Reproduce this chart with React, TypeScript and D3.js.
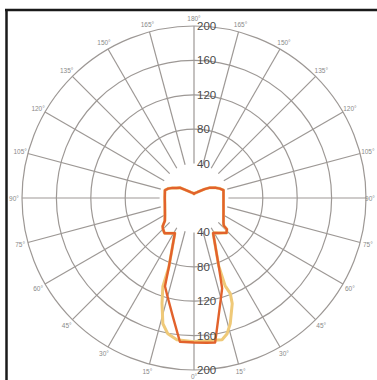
import React from "react";
import * as d3 from "d3";

const ringValues = [40, 80, 120, 160, 200];
const gridRings = [80, 120, 160, 200];
const spokeAngles = [0, 15, 30, 45, 60, 75, 90, 105, 120, 135, 150, 165, 180];
const angleLabels = ["0°", "15°", "30°", "45°", "60°", "75°", "90°", "105°", "120°", "135°", "150°", "165°", "180°"];

// C0-C180 plane (red), path order: bottom -> left side -> top -> right side (negative = left)
const redAngles = [0, -5.6, -10, -15, -18.2, -20, -25, -28.5, -30, -35, -40, -45, -48, -52, -60, -70, -80, -90, -100, -105, -110, -115, -120, -126, -130, -140, -150, -160, -170, 180,
  170, 160, 150, 140, 130, 122.8, 115, 110, 105, 100, 90, 80, 70, 60, 50, 47, 46.5, 43, 40, 35, 30, 28.5, 25, 20, 17.3, 15, 10, 8.3, 5];
const redValues = [168, 168, 140.6, 118.8, 108, 85.6, 57.2, 46.6, 47.3, 50, 53.4, 51, 49, 43, 39, 36, 34.4, 34, 34.4, 35, 32, 27.7, 23.4, 20.3, 16, 10.4, 7.8, 6.5, 5.7, 4.7,
  5.7, 6.5, 7.8, 10.4, 16, 22.2, 28, 32, 35.5, 34.8, 34.3, 34.8, 36.5, 39.6, 44.7, 47.4, 52.7, 55.5, 53, 49.6, 46.8, 46.6, 57, 84, 110, 120.8, 154, 170, 169];

// C90-C270 plane (yellow)
const yellowAngles = [0, -6.9, -10.9, -13.9, -16.9, -19.4, -20, -25, -28.5, -30, -35, -40, -45, -48, -52, -60, -70, -80, -90, -100, -105, -110, -115, -120, -126, -130, -140, -150, -160, -170, 180,
  170, 160, 150, 140, 130, 122.8, 115, 110, 105, 100, 90, 80, 70, 60, 50, 47, 46.5, 43, 40, 35, 30, 28.5, 25, 20, 19.5, 20.8, 19.9, 16.1, 13.7, 11.2];
const yellowValues = [167, 166, 160.8, 150.6, 128, 109, 85.6, 57.2, 46.6, 47.3, 50, 53.4, 51, 49, 43, 39, 36, 34.4, 34, 34.4, 35, 32, 27.7, 23.4, 20.3, 16, 10.4, 7.8, 6.5, 5.7, 4.7,
  5.7, 6.5, 7.8, 10.4, 16, 22.2, 28, 32, 35.5, 34.8, 34.3, 34.8, 36.5, 39.6, 44.7, 47.4, 52.7, 55.5, 53, 49.6, 46.8, 46.6, 57, 84, 108, 119, 130.6, 152, 162.5, 168];

const W = 377;
const H = 380;
const cx = 194;
const cy = 198;
const R = 172;

export default function App() {
  const r = d3.scaleLinear().domain([0, 200]).range([0, R]);
  const toRad = (g: number) => Math.PI - (g * Math.PI) / 180;
  const line = d3
    .lineRadial<[number, number]>()
    .angle((d) => toRad(d[0]))
    .radius((d) => r(d[1]))
    .curve(d3.curveLinearClosed);

  const redPath = line(redAngles.map((a, i) => [a, redValues[i]]) as [number, number][]) || "";
  const yellowPath = line(yellowAngles.map((a, i) => [a, yellowValues[i]]) as [number, number][]) || "";

  const spokes: number[] = [];
  spokeAngles.forEach((a) => {
    spokes.push(a);
    if (a !== 0 && a !== 180) spokes.push(-a);
  });

  const pt = (g: number, rad: number) => {
    const t = (g * Math.PI) / 180;
    return [cx + Math.sin(t) * rad, cy + Math.cos(t) * rad];
  };

  const font = "Liberation Sans, Arial, sans-serif";

  return (
    <svg width={W} height={H} style={{ position: "absolute", left: 0, top: 0, background: "#fff" }}>
      <rect x={0} y={0} width={W} height={H} fill="#fff" />
      <g>
        {gridRings.map((v) => (
          <circle key={v} cx={cx} cy={cy} r={r(v)} fill="none" stroke="#9d9895" strokeWidth={1.2} />
        ))}
        {spokes.map((g) => {
          const [x1, y1] = pt(g, r(40));
          const [x2, y2] = pt(g, r(200));
          return <line key={g} x1={x1} y1={y1} x2={x2} y2={y2} stroke="#9d9895" strokeWidth={1.2} />;
        })}
        {spokeAngles.map((a, i) => {
          const sides = a === 0 || a === 180 ? [a] : [a, -a];
          return sides.map((g) => {
            const [x0, y0] = pt(g, 180);
            const x = Math.min(Math.max(x0, 14), W - 7);
            const y = Math.min(y0, H - 4);
            return (
              <text key={`${g}`} x={x} y={y} fontSize={6.5} fill="#8a8a8a" fontFamily={font} textAnchor="middle" dominantBaseline="central">
                {angleLabels[i]}
              </text>
            );
          });
        })}
      </g>
      <circle cx={cx} cy={cy} r={r(40) - 1} fill="#fff" />
      <path d={yellowPath} transform={`translate(${cx},${cy})`} fill="none" stroke="#efc978" strokeWidth={3} strokeLinejoin="round" />
      <path d={redPath} transform={`translate(${cx},${cy})`} fill="none" stroke="#e2622c" strokeWidth={2.4} strokeLinejoin="round" />
      {ringValues.map((v) => (
        <g key={v}>
          <text x={cx + 3} y={cy - r(v)} fontSize={11.5} fill="#4a4a4a" fontFamily={font} dominantBaseline="central">
            {v}
          </text>
          <text x={cx + 3} y={cy + r(v)} fontSize={11.5} fill="#4a4a4a" fontFamily={font} dominantBaseline="central">
            {v}
          </text>
        </g>
      ))}
      <line x1={5} y1={10} x2={W} y2={10} stroke="#1a1a1a" strokeWidth={2.5} />
      <line x1={6.5} y1={9} x2={6.5} y2={H} stroke="#1a1a1a" strokeWidth={2.5} />
    </svg>
  );
}
